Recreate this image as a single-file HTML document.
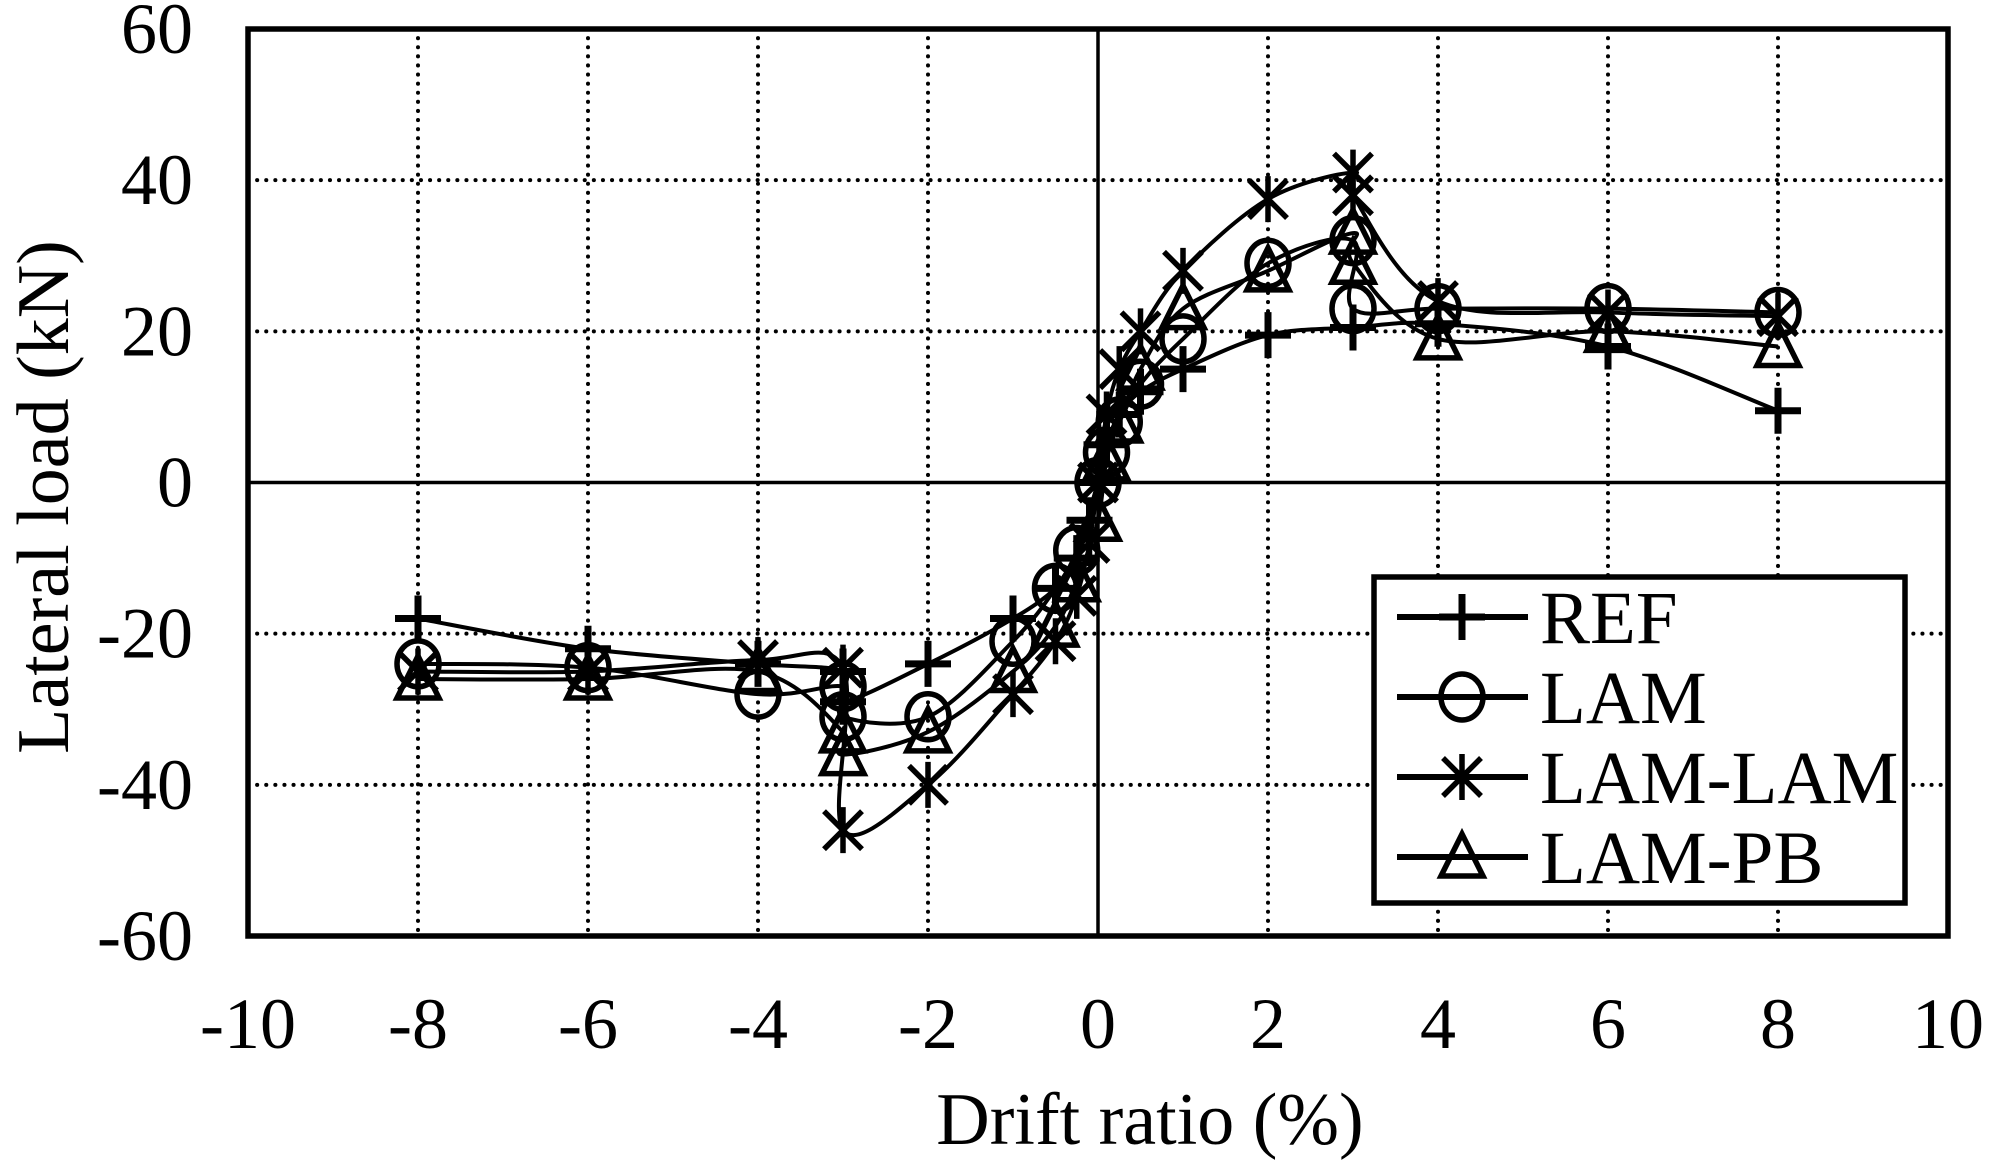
<!DOCTYPE html>
<html><head><meta charset="utf-8"><style>
html,body{margin:0;padding:0;background:#fff;}
svg{display:block;}
text{font-family:"Liberation Serif",serif;fill:#000;}
</style></head><body>
<svg id="s" width="1997" height="1173" xmlns="http://www.w3.org/2000/svg"></svg>
<script>
const L=248,R=1948,T=29,B=936;
const X=x=>L+(x+10)*(R-L)/20, Y=y=>T+(60-y)*(B-T)/120;
let h='';
for(let x=-8;x<=8;x+=2){if(x==0)continue;h+=`<line x1="${X(x)}" y1="${T}" x2="${X(x)}" y2="${B}" stroke="#000" stroke-width="4" stroke-dasharray="0.1 9" stroke-linecap="round"/>`;}
for(let y=-40;y<=40;y+=20){if(y==0)continue;h+=`<line x1="${L}" y1="${Y(y)}" x2="${R}" y2="${Y(y)}" stroke="#000" stroke-width="4" stroke-dasharray="0.1 9" stroke-linecap="round"/>`;}
h+=`<line x1="${X(0)}" y1="${T}" x2="${X(0)}" y2="${B}" stroke="#000" stroke-width="3.5"/>`;
h+=`<line x1="${L}" y1="${Y(0)}" x2="${R}" y2="${Y(0)}" stroke="#000" stroke-width="3.5"/>`;
h+=`<rect x="${L}" y="${T}" width="${R-L}" height="${B-T}" fill="none" stroke="#000" stroke-width="5.5"/>`;
for(let y=-60;y<=60;y+=20){h+=`<text x="193" y="${Y(y)+24}" font-size="72" text-anchor="end">${y}</text>`;}
for(let x=-10;x<=10;x+=2){h+=`<text x="${X(x)}" y="1048" font-size="72" text-anchor="middle">${x}</text>`;}
h+=`<text x="1150" y="1144" font-size="74" text-anchor="middle">Drift ratio (%)</text>`;
h+=`<text transform="translate(68,497) rotate(-90)" font-size="74" text-anchor="middle">Lateral load (kN)</text>`;
const D={
REF:[[-8,-18],[-6,-22],[-4,-24],[-3,-25],[-3,-29],[-2,-24],[-1,-18],[-0.5,-14],[-0.25,-10],[-0.1,-5],[0,0],[0.1,5],[0.25,9],[0.5,12],[1,15],[2,19.5],[3,20.5],[4,21],[6,18],[8,9.5]],
LAM:[[-8,-24],[-6,-24.5],[-4,-28],[-3,-27],[-3,-31],[-2,-31],[-1,-21],[-0.5,-14],[-0.25,-9],[0,0],[0.1,4],[0.25,8],[0.5,13],[1,19],[2,29],[3,32],[3,23],[4,23],[6,23],[8,22.5]],
LL:[[-8,-25],[-6,-25],[-4,-23.5],[-3,-24.5],[-3,-46],[-2,-40],[-1,-28],[-0.5,-21],[-0.25,-15],[-0.1,-8],[0,0],[0.1,9],[0.25,15],[0.5,20],[1,28],[2,37.5],[3,41],[3,38],[4,24],[6,22.5],[8,22]],
PB:[[-8,-26],[-6,-26],[-4,-25],[-3,-33],[-3,-36],[-2,-33],[-1,-25],[-0.5,-19],[-0.25,-13],[0,-5],[0.1,3],[0.25,8],[0.5,15],[1,23],[2,28],[3,33],[3,29],[4,19],[6,20],[8,18]]};
function path(p){p=p.map(q=>[X(q[0]),Y(q[1])]);let d=`M${p[0][0]},${p[0][1]}`;
for(let i=0;i<p.length-1;i++){const a=p[Math.max(0,i-1)],b=p[i],c=p[i+1],e=p[Math.min(p.length-1,i+2)];
d+=` C${b[0]+(c[0]-a[0])/6},${b[1]+(c[1]-a[1])/6} ${c[0]-(e[0]-b[0])/6},${c[1]-(e[1]-b[1])/6} ${c[0]},${c[1]}`;}return d;}
function mk(t,x,y){const s=23;
if(t=='REF')return `<path d="M${x-s},${y}H${x+s}M${x},${y-s}V${y+s}" stroke="#000" stroke-width="7" fill="none"/>`;
if(t=='LAM')return `<ellipse cx="${x}" cy="${y}" rx="21" ry="23" fill="none" stroke="#000" stroke-width="5.5"/>`;
if(t=='LL')return `<path d="M${x},${y-s}V${y+s}M${x-19},${y-19}L${x+19},${y+19}M${x-19},${y+19}L${x+19},${y-19}" stroke="#000" stroke-width="5.5" fill="none"/>`;
return `<path d="M${x},${y-23}L${x+21},${y+19}H${x-21}Z" stroke="#000" stroke-width="5.5" fill="none"/>`;}
for(const k in D){h+=`<path d="${path(D[k])}" stroke="#000" stroke-width="4" fill="none"/>`;
for(const q of D[k])h+=mk(k,X(q[0]),Y(q[1]));}
h+=`<rect x="1374" y="577" width="531" height="326" fill="#fff" stroke="#000" stroke-width="5.5"/>`;
const names=[['REF','REF'],['LAM','LAM'],['LL','LAM-LAM'],['PB','LAM-PB']];
names.forEach((n,i)=>{const y=617+i*80;h+=`<line x1="1397" y1="${y}" x2="1528" y2="${y}" stroke="#000" stroke-width="6"/>`+mk(n[0],1462,y)+`<text x="1540" y="${y+26}" font-size="75">${n[1]}</text>`;});
document.getElementById('s').innerHTML=h;
</script>
</body></html>
